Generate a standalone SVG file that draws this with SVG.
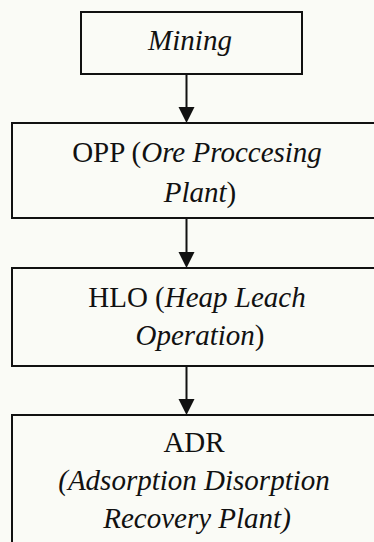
<svg xmlns="http://www.w3.org/2000/svg" width="374" height="542" viewBox="0 0 374 542">
<defs>
<style>
.box{fill:none;stroke:#111;stroke-width:2}
.t{font-family:"Liberation Serif","Times New Roman",serif;font-size:29px;fill:#111;text-anchor:middle}
.i{font-style:italic}
.ln{stroke:#111;stroke-width:2;fill:none}
.ah{fill:#111;stroke:none}
</style>
</defs>
<rect x="0" y="0" width="374" height="542" fill="#fafbf6"/>
<g id="mining">
<rect class="box" x="81" y="12" width="221" height="62"/>
<text class="t i" x="190" y="50">Mining</text>
</g>
<g id="opp">
<rect class="box" x="12" y="123" width="380" height="95"/>
<text class="t" x="197" y="162">OPP (<tspan class="i">Ore Proccesing</tspan></text>
<text class="t" x="200" y="202"><tspan class="i">Plant</tspan>)</text>
</g>
<g id="hlo">
<rect class="box" x="12" y="268" width="380" height="98"/>
<text class="t" x="197" y="307">HLO (<tspan class="i">Heap Leach</tspan></text>
<text class="t" x="200" y="345"><tspan class="i">Operation</tspan>)</text>
</g>
<g id="adr">
<rect class="box" x="12" y="415" width="380" height="150"/>
<text class="t" x="194" y="452">ADR</text>
<text class="t i" x="194" y="490">(Adsorption Disorption</text>
<text class="t i" x="197" y="528">Recovery Plant)</text>
</g>
<g id="connectors">
<line class="ln" x1="186.5" y1="75" x2="186.5" y2="108"/>
<polygon class="ah" points="178.5,107 194.5,107 186.5,123"/>
<line class="ln" x1="186.5" y1="219" x2="186.5" y2="253"/>
<polygon class="ah" points="178.5,252 194.5,252 186.5,268"/>
<line class="ln" x1="186.5" y1="367" x2="186.5" y2="400"/>
<polygon class="ah" points="178.5,399 194.5,399 186.5,415"/>
</g>
</svg>
